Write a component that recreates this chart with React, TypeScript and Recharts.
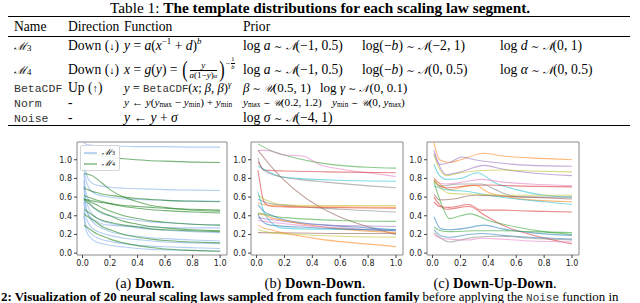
import React from "react";
import { LineChart, Line, XAxis, YAxis, ReferenceArea, Legend } from "recharts";

// axes shared by the three panels
const xTicks = [0, 0.2, 0.4, 0.6, 0.8, 1.0];
const yTicks = [0, 0.2, 0.4, 0.6, 0.8, 1.0];

// (a) Down: sampled on a common grid
const downX = [0.01, 0.02, 0.04, 0.07, 0.1, 0.15, 0.2, 0.3, 0.4, 0.5, 0.6, 0.8, 1.0];
const m3Values = [
  [1.18, 1.17, 1.16, 1.155, 1.15, 1.15, 1.145, 1.145, 1.14, 1.14, 1.14, 1.135, 1.135],
  [1.0, 0.9, 0.8, 0.75, 0.73, 0.715, 0.705, 0.695, 0.69, 0.685, 0.68, 0.675, 0.67],
  [0.92, 0.82, 0.72, 0.66, 0.63, 0.61, 0.6, 0.58, 0.575, 0.57, 0.565, 0.56, 0.555],
  [0.85, 0.7, 0.58, 0.5, 0.46, 0.42, 0.4, 0.37, 0.35, 0.335, 0.325, 0.31, 0.3],
  [0.78, 0.62, 0.5, 0.42, 0.38, 0.34, 0.32, 0.29, 0.27, 0.255, 0.245, 0.23, 0.22],
  [0.72, 0.55, 0.42, 0.34, 0.3, 0.26, 0.23, 0.2, 0.18, 0.165, 0.155, 0.14, 0.13],
  [0.55, 0.42, 0.33, 0.27, 0.24, 0.21, 0.19, 0.16, 0.145, 0.13, 0.12, 0.11, 0.1],
  [0.45, 0.33, 0.25, 0.2, 0.17, 0.14, 0.125, 0.1, 0.085, 0.075, 0.068, 0.058, 0.05],
  [0.4, 0.28, 0.2, 0.15, 0.12, 0.1, 0.085, 0.065, 0.05, 0.04, 0.035, 0.027, 0.02],
  [0.6, 0.5, 0.42, 0.37, 0.34, 0.31, 0.3, 0.29, 0.285, 0.28, 0.275, 0.27, 0.27],
];
const m4Values = [
  [1.07, 1.065, 1.06, 1.055, 1.05, 1.04, 1.03, 1.01, 1.0, 0.99, 0.985, 0.975, 0.97],
  [0.85, 0.85, 0.845, 0.83, 0.8, 0.74, 0.68, 0.6, 0.55, 0.51, 0.49, 0.46, 0.45],
  [0.7, 0.69, 0.68, 0.66, 0.65, 0.63, 0.62, 0.6, 0.585, 0.575, 0.565, 0.555, 0.55],
  [0.62, 0.61, 0.6, 0.585, 0.57, 0.55, 0.53, 0.5, 0.48, 0.465, 0.455, 0.44, 0.43],
  [0.58, 0.575, 0.56, 0.54, 0.52, 0.48, 0.45, 0.4, 0.37, 0.345, 0.33, 0.31, 0.3],
  [0.57, 0.56, 0.54, 0.5, 0.47, 0.43, 0.4, 0.34, 0.31, 0.285, 0.27, 0.25, 0.24],
  [0.47, 0.46, 0.44, 0.41, 0.38, 0.35, 0.33, 0.3, 0.28, 0.26, 0.25, 0.24, 0.23],
  [0.42, 0.41, 0.39, 0.36, 0.33, 0.28, 0.25, 0.2, 0.17, 0.15, 0.135, 0.12, 0.11],
  [0.3, 0.29, 0.27, 0.24, 0.21, 0.18, 0.15, 0.11, 0.08, 0.06, 0.045, 0.03, 0.02],
  [0.58, 0.575, 0.57, 0.56, 0.55, 0.54, 0.53, 0.51, 0.5, 0.49, 0.48, 0.47, 0.46],
];
const legendNames = ["ℳ3", "ℳ4"];

// (b) Down-Down: each curve has its own breakpoints
const downDownX = [
  [0.01, 0.1, 0.2, 0.3, 0.4, 0.6, 0.8, 1.0],
  [0.01, 0.07, 0.2, 0.33, 0.45, 0.6, 0.8, 1.0],
  [0.01, 0.17, 1.0],
  [0.01, 0.03, 0.05, 0.1, 0.2, 0.5, 1.0],
  [0.01, 0.03, 0.05, 0.08, 0.12, 0.2, 0.4, 1.0],
  [0.01, 0.05, 0.1, 0.17, 0.3, 0.6, 1.0],
  [0.01, 0.03, 0.06, 0.1, 0.2, 0.3, 0.5, 0.8, 1.0],
  [0.01, 0.05, 0.1, 0.17, 0.4, 1.0],
  [0.01, 0.05, 0.1, 0.3, 0.6, 1.0],
  [0.01, 0.05, 0.1, 0.3, 0.6, 1.0],
  [0.01, 0.05, 0.1, 0.2, 0.3, 0.6, 1.0],
  [0.01, 0.03, 0.05, 0.08, 0.12, 0.17, 0.3, 0.6, 1.0],
  [0.01, 0.05, 0.1, 0.15, 0.3, 0.5, 0.8, 1.0],
  [0.01, 0.05, 0.1, 0.3, 0.5, 0.8, 1.0],
  [0.01, 0.05, 0.1, 0.2, 0.3, 0.6, 1.0],
  [0.01, 0.05, 0.1, 0.3, 0.6, 1.0],
  [0.01, 0.3, 0.6, 1.0],
  [0.01, 0.05, 0.1, 0.3, 0.6, 1.0],
  [0.01, 0.05, 0.1, 0.25, 0.45, 0.7, 1.0],
  [0.01, 0.03, 0.06, 0.1, 0.3, 0.6, 1.0],
];
const downDownY = [
  [1.17, 1.1, 1.05, 1.01, 0.98, 0.94, 0.92, 0.91],
  [1.1, 1.1, 1.05, 1.04, 0.95, 0.9, 0.86, 0.82],
  [1.1, 0.82, 0.2],
  [0.98, 0.93, 0.89, 0.885, 0.88, 0.87, 0.86],
  [0.89, 0.7, 0.56, 0.51, 0.5, 0.495, 0.49, 0.48],
  [0.93, 0.9, 0.86, 0.82, 0.8, 0.78, 0.77],
  [1.02, 0.93, 0.88, 0.85, 0.81, 0.79, 0.76, 0.72, 0.7],
  [0.62, 0.58, 0.55, 0.52, 0.51, 0.51],
  [0.58, 0.55, 0.53, 0.5, 0.47, 0.44],
  [0.54, 0.52, 0.51, 0.5, 0.495, 0.49],
  [0.43, 0.42, 0.4, 0.38, 0.37, 0.35, 0.34],
  [0.65, 0.55, 0.45, 0.37, 0.31, 0.27, 0.26, 0.255, 0.25],
  [0.52, 0.45, 0.41, 0.38, 0.33, 0.3, 0.27, 0.25],
  [0.38, 0.37, 0.36, 0.32, 0.3, 0.29, 0.285],
  [0.42, 0.41, 0.38, 0.35, 0.32, 0.26, 0.22],
  [0.35, 0.34, 0.33, 0.3, 0.27, 0.24],
  [0.22, 0.215, 0.21, 0.21],
  [0.25, 0.235, 0.22, 0.2, 0.18, 0.17],
  [0.3, 0.27, 0.25, 0.2, 0.15, 0.11, 0.07],
  [0.42, 0.36, 0.32, 0.3, 0.28, 0.26, 0.24],
];

// (c) Down-Up-Down
const downUpDownX = [
  [0.01, 0.05, 0.12, 0.2, 0.37, 0.5, 0.7, 1.0],
  [0.01, 0.05, 0.12, 0.21, 0.3, 0.45, 0.7, 1.0],
  [0.01, 0.06, 0.1, 0.2, 0.37, 0.5, 0.7, 1.0],
  [0.01, 0.05, 0.1, 0.2, 0.3, 0.5, 0.7, 1.0],
  [0.01, 0.05, 0.1, 0.2, 0.32, 0.45, 0.6, 0.8, 1.0],
  [0.01, 0.05, 0.1, 0.25, 0.35, 0.5, 0.7, 1.0],
  [0.01, 0.05, 0.1, 0.25, 0.4, 0.6, 1.0],
  [0.01, 0.07, 0.12, 0.3, 0.4, 0.55, 0.7, 1.0],
  [0.01, 0.05, 0.2, 0.35, 0.45, 0.55, 0.65, 1.0],
  [0.01, 0.1, 0.25, 0.4, 0.6, 0.8, 1.0],
  [0.01, 0.07, 0.12, 0.3, 0.5, 1.0],
  [0.01, 0.05, 0.15, 0.3, 0.5, 0.7, 1.0],
  [0.01, 0.05, 0.12, 0.26, 0.35, 0.5, 0.7, 1.0],
  [0.01, 0.05, 0.1, 0.26, 0.38, 0.5, 0.7, 0.9, 1.0],
  [0.01, 0.07, 0.12, 0.2, 0.27, 0.4, 0.6, 0.8, 1.0],
  [0.01, 0.06, 0.12, 0.25, 0.37, 0.5, 0.7, 1.0],
  [0.01, 0.06, 0.12, 0.3, 0.5, 0.7, 1.0],
  [0.01, 0.07, 0.12, 0.26, 0.35, 0.5, 0.7, 1.0],
  [0.01, 0.07, 0.12, 0.2, 0.3, 0.5, 0.7, 1.0],
  [0.01, 0.06, 0.12, 0.25, 0.35, 0.5, 0.7, 1.0],
];
const downUpDownY = [
  [1.18, 1.0, 0.97, 1.0, 1.07, 1.04, 1.02, 1.0],
  [1.07, 0.95, 0.97, 1.03, 1.0, 0.97, 0.94, 0.93],
  [1.1, 0.9, 0.84, 0.87, 0.94, 0.9, 0.86, 0.83],
  [1.05, 0.9, 0.83, 0.86, 0.88, 0.89, 0.88, 0.87],
  [0.95, 0.83, 0.79, 0.8, 0.86, 0.75, 0.68, 0.62, 0.6],
  [0.8, 0.75, 0.74, 0.77, 0.79, 0.76, 0.74, 0.72],
  [0.78, 0.72, 0.7, 0.72, 0.73, 0.72, 0.71],
  [0.8, 0.72, 0.68, 0.73, 0.65, 0.6, 0.57, 0.55],
  [0.78, 0.72, 0.74, 0.74, 0.68, 0.62, 0.6, 0.6],
  [0.72, 0.68, 0.66, 0.62, 0.58, 0.55, 0.52],
  [0.78, 0.68, 0.64, 0.63, 0.62, 0.62],
  [0.63, 0.57, 0.58, 0.62, 0.61, 0.6, 0.58],
  [0.55, 0.5, 0.49, 0.52, 0.46, 0.46, 0.45, 0.44],
  [0.6, 0.52, 0.47, 0.5, 0.4, 0.3, 0.2, 0.13, 0.1],
  [0.76, 0.5, 0.37, 0.4, 0.42, 0.35, 0.28, 0.23, 0.2],
  [0.39, 0.26, 0.25, 0.27, 0.3, 0.26, 0.22, 0.19],
  [0.28, 0.24, 0.23, 0.24, 0.24, 0.23, 0.22],
  [0.25, 0.18, 0.17, 0.2, 0.21, 0.19, 0.17, 0.15],
  [0.22, 0.15, 0.12, 0.14, 0.17, 0.18, 0.16, 0.14],
  [0.2, 0.16, 0.15, 0.14, 0.16, 0.15, 0.13, 0.12],
];

const downDownColors = [
  "#2ca02c", "#e377c2", "#8c564b", "#d62728", "#d62728", "#17becf", "#7f7f7f",
  "#bcbd22", "#7f7f7f", "#ff7f0e", "#2ca02c", "#17becf", "#1f77b4", "#9467bd",
  "#ff7f0e", "#e377c2", "#8c564b", "#bcbd22", "#ff7f0e", "#1f77b4",
];
const downUpDownColors = [
  "#ff7f0e", "#9467bd", "#9467bd", "#bcbd22", "#17becf", "#e377c2", "#d62728",
  "#ff7f0e", "#7f7f7f", "#17becf", "#bcbd22", "#8c564b", "#d62728", "#d62728",
  "#2ca02c", "#1f77b4", "#2ca02c", "#1f77b4", "#7f7f7f", "#e377c2",
];
const m3Color = "#6a9fe6";
const m4Color = "#2e8b2e";

const X_DOMAIN = [-0.04, 1.05];
const Y_DOMAIN = [-0.02, 1.19];
const serif = "'Liberation Serif', Tinos, 'Times New Roman', serif";
const mono = "'Liberation Mono', Cousine, monospace";
const tickFont = { fontSize: 8, fill: "#222", fontFamily: "'DejaVu Sans', sans-serif" };
const fmt = (v: number) => v.toFixed(1);

const downRows = downX.map((x, i) => {
  const row: Record<string, number> = { x };
  m3Values.forEach((s, k) => (row["m3_" + k] = s[i]));
  m4Values.forEach((s, k) => (row["m4_" + k] = s[i]));
  return row;
});
const toPoints = (xs: number[], ys: number[]) => xs.map((x, i) => ({ x, y: ys[i] }));

const LegendBox = (props: any) => {
  const items = (props.payload || []).filter((p: any) => p.type !== "none");
  return (
    <div style={{ border: "1px solid #d5d5d5", borderRadius: 2, background: "rgba(255,255,255,0.85)", padding: "1px 4px 1px 3px", fontFamily: serif, fontSize: 8.5, lineHeight: "11px" }}>
      {items.map((p: any) => (
        <div key={p.value} style={{ display: "flex", alignItems: "center" }}>
          <svg width={15} height={6} style={{ marginRight: 5 }}>
            <line x1={0} y1={3} x2={15} y2={3} stroke={p.color} strokeWidth={1.2} strokeOpacity={0.75} />
          </svg>
          <span style={{ fontFamily: "'DejaVu Serif', serif", fontStyle: "italic" }}>{p.value.slice(0, 1)}</span>
          <sub style={{ fontSize: 6, lineHeight: 0 }}>{p.value.slice(1)}</sub>
        </div>
      ))}
    </div>
  );
};

const Panel = ({ left, width, data, children }: any) => (
  <div style={{ position: "absolute", left, top: 135 }}>
    <LineChart width={width} height={135} data={data} margin={{ top: 7, right: 6, bottom: 0, left: 0 }}>
      <XAxis type="number" dataKey="x" domain={X_DOMAIN} ticks={xTicks} tickFormatter={fmt} allowDataOverflow
        interval={0} tick={tickFont} tickSize={3} tickLine={{ stroke: "#444" }} axisLine={false} height={15} />
      <YAxis type="number" domain={Y_DOMAIN} ticks={yTicks} tickFormatter={fmt} allowDataOverflow
        interval={0} tick={tickFont} tickSize={3} tickLine={{ stroke: "#444" }} axisLine={false} width={30} />
      {children}
      <ReferenceArea x1={X_DOMAIN[0]} x2={X_DOMAIN[1]} y1={Y_DOMAIN[0]} y2={Y_DOMAIN[1]}
        fill="none" stroke="#8a8a8a" strokeWidth={1} ifOverflow="visible" />
    </LineChart>
  </div>
);

const T = ({ x, y, children, style }: any) => (
  <span style={{ position: "absolute", left: x, top: y - 6, lineHeight: "12px", whiteSpace: "nowrap", ...style }}>{children}</span>
);
const I = ({ children }: any) => <i>{children}</i>;
const Sup = ({ children }: any) => <sup style={{ fontSize: "0.65em", lineHeight: 0 }}>{children}</sup>;
const Sub = ({ children }: any) => <span style={{ fontSize: "0.65em", lineHeight: 0, verticalAlign: "-0.12em" }}>{children}</span>;
const Cal = ({ children }: any) => <span style={{ fontFamily: "'DejaVu Serif', serif", fontStyle: "italic", fontSize: "0.8em" }}>{children}</span>;
const Sim = () => <span style={{ fontFamily: "'DejaVu Sans', sans-serif", fontSize: "0.75em" }}> ∼ </span>;
const Mono = ({ children, size = 11.5 }: any) => <span style={{ fontFamily: mono, fontSize: size, color: "#333" }}>{children}</span>;
const Rule = ({ y, h }: any) => <div style={{ position: "absolute", left: 8, width: 622, top: y, height: h, background: "#000" }} />;
const Paren = ({ children }: any) => (
  <span style={{ fontSize: 23, lineHeight: "22px", display: "inline-block", transform: "scaleX(0.7)" }}>{children}</span>
);
const Arrow = ({ children }: any) => <span style={{ fontSize: "0.8em" }}>{children}</span>;

const Table = () => (
  <div style={{ position: "absolute", left: 0, top: 0, width: 640, height: 130, fontFamily: serif, fontSize: 13.6, color: "#000" }}>
    <div style={{ position: "absolute", left: 0, width: 640, top: 0, textAlign: "center", lineHeight: "16px", fontSize: 15.3 }}>
      Table 1: <b>The template distributions for each scaling law segment.</b>
    </div>
    <Rule y={15.5} h={1.5} />
    <T x={14} y={27}>Name</T>
    <T x={68} y={27}>Direction</T>
    <T x={124} y={27}>Function</T>
    <T x={243} y={27}>Prior</T>
    <Rule y={35.5} h={0.8} />

    <T x={14} y={46}><Cal>ℳ</Cal><Sub>3</Sub></T>
    <T x={68} y={46}>Down (<Arrow>↓</Arrow>)</T>
    <T x={124} y={46}><I>y</I> = <I>a</I>(<I>x</I><Sup>−1</Sup> + <I>d</I>)<Sup><I>b</I></Sup></T>
    <T x={243} y={46}>log <I>a</I><Sim /><Cal>𝒩</Cal>(−1, 0.5)</T>
    <T x={362} y={46}>log(−<I>b</I>)<Sim /><Cal>𝒩</Cal>(−2, 1)</T>
    <T x={500} y={46}>log <I>d</I><Sim /><Cal>𝒩</Cal>(0, 1)</T>

    <T x={14} y={70}><Cal>ℳ</Cal><Sub>4</Sub></T>
    <T x={68} y={70}>Down (<Arrow>↓</Arrow>)</T>
    <span style={{ position: "absolute", left: 124, top: 59, height: 22, display: "inline-flex", alignItems: "center", whiteSpace: "nowrap" }}>
      <I>x</I>&nbsp;=&nbsp;<I>g</I>(<I>y</I>)&nbsp;=&nbsp;
      <Paren>(</Paren>
      <span style={{ display: "inline-flex", flexDirection: "column", alignItems: "center", fontSize: 9, lineHeight: "9px", margin: "0 1px" }}>
        <span style={{ borderBottom: "0.8px solid #000", width: "100%", textAlign: "center" }}><I>y</I></span>
        <span><I>a</I>(1−<I>y</I>)<span style={{ fontSize: 6.5, verticalAlign: "top" }}><I>α</I></span></span>
      </span>
      <Paren>)</Paren>
      <span style={{ alignSelf: "flex-start", display: "inline-flex", alignItems: "center", fontSize: 8, marginTop: -3 }}>
        −<span style={{ display: "inline-flex", flexDirection: "column", alignItems: "center", lineHeight: "6.5px", fontSize: 6.5, marginLeft: 1 }}>
          <span style={{ borderBottom: "0.6px solid #000" }}>1</span><I>b</I>
        </span>
      </span>
    </span>
    <T x={243} y={70}>log <I>a</I><Sim /><Cal>𝒩</Cal>(−1, 0.5)</T>
    <T x={362} y={70}>log(−<I>b</I>)<Sim /><Cal>𝒩</Cal>(0, 0.5)</T>
    <T x={500} y={70}>log <I>α</I><Sim /><Cal>𝒩</Cal>(0, 0.5)</T>

    <T x={14} y={88}><Mono>BetaCDF</Mono></T>
    <T x={68} y={88}>Up (<Arrow>↑</Arrow>)</T>
    <T x={124} y={88} style={{ fontSize: 12.6 }}><I>y</I> = <Mono size={10.8}>BetaCDF</Mono>(<I>x</I>; <I>β</I>, <I>β</I>)<Sup><I>γ</I></Sup></T>
    <T x={243} y={88} style={{ fontSize: 13 }}><I>β</I><Sim /><Cal>𝒰</Cal>(0.5, 1)</T>
    <T x={320} y={88} style={{ fontSize: 13 }}>log <I>γ</I><Sim /><Cal>𝒩</Cal>(0, 0.1)</T>

    <T x={14} y={102.5}><Mono>Norm</Mono></T>
    <T x={68} y={102.5}>-</T>
    <T x={124} y={102} style={{ fontSize: 11.2 }}><I>y</I> ← <I>y</I>(<I>y</I><Sub>max</Sub> − <I>y</I><Sub>min</Sub>) + <I>y</I><Sub>min</Sub></T>
    <T x={243} y={102} style={{ fontSize: 11.2 }}><I>y</I><Sub>max</Sub><Sim /><Cal>𝒰</Cal>(0.2, 1.2)</T>
    <T x={332} y={102} style={{ fontSize: 11.2 }}><I>y</I><Sub>min</Sub><Sim /><Cal>𝒰</Cal>(0, <I>y</I><Sub>max</Sub>)</T>

    <T x={14} y={118}><Mono>Noise</Mono></T>
    <T x={68} y={118}>-</T>
    <T x={124} y={118}><I>y</I> ← <I>y</I> + <I>σ</I></T>
    <T x={243} y={118}>log <I>σ</I><Sim /><Cal>𝒩</Cal>(−4, 1)</T>
    <Rule y={124.5} h={1.5} />
  </div>
);

const Caption = ({ cx, label, title }: any) => (
  <div style={{ position: "absolute", left: cx - 90, width: 180, top: 275, textAlign: "center", fontFamily: serif, fontSize: 14.4, lineHeight: "16px" }}>
    ({label}) <b>{title}</b>.
  </div>
);

export default function App() {
  return (
    <div style={{ position: "absolute", left: 0, top: 0, width: 640, height: 303, overflow: "hidden", background: "#fff" }}>
      <Table />

      <Panel left={47} width={186} data={downRows}>
        {m3Values.map((_, k) => (
          <Line key={"m3" + k} dataKey={"m3_" + k} name={legendNames[0]} legendType={k === 0 ? "line" : "none"}
            type="monotone" stroke={m3Color} strokeOpacity={0.5} strokeWidth={1.1} dot={false} isAnimationActive={false} />
        ))}
        {m4Values.map((_, k) => (
          <Line key={"m4" + k} dataKey={"m4_" + k} name={legendNames[1]} legendType={k === 0 ? "line" : "none"}
            type="monotone" stroke={m4Color} strokeOpacity={0.65} strokeWidth={1.1} dot={false} isAnimationActive={false} />
        ))}
        <Legend layout="vertical" align="center" verticalAlign="middle" content={<LegendBox />}
          wrapperStyle={{ left: 33, top: 10, width: 40 }} />
      </Panel>

      <Panel left={221} width={188}>
        {downDownY.map((ys, k) => (
          <Line key={"dd" + k} data={toPoints(downDownX[k], ys)} dataKey="y" type="monotone"
            stroke={downDownColors[k]} strokeOpacity={0.55} strokeWidth={1.1} dot={false} isAnimationActive={false} />
        ))}
      </Panel>

      <Panel left={397} width={188}>
        {downUpDownY.map((ys, k) => (
          <Line key={"dud" + k} data={toPoints(downUpDownX[k], ys)} dataKey="y" type="monotone"
            stroke={downUpDownColors[k]} strokeOpacity={0.55} strokeWidth={1.1} dot={false} isAnimationActive={false} />
        ))}
      </Panel>

      <Caption cx={145} label="a" title="Down" />
      <Caption cx={315} label="b" title="Down-Down" />
      <Caption cx={495} label="c" title="Down-Up-Down" />

      <div style={{ position: "absolute", left: 1, top: 290, whiteSpace: "nowrap", fontFamily: serif, fontSize: 12.9, lineHeight: "15px" }}>
        <b>2: Visualization of 20 neural scaling laws sampled from each function family</b> before applying the <Mono size={11}>Noise</Mono> function in
      </div>
    </div>
  );
}
